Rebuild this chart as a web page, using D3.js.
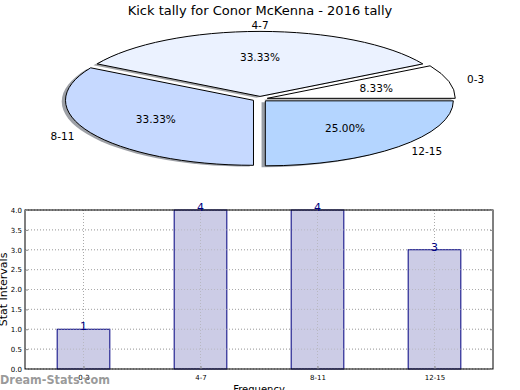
<!DOCTYPE html>
<html><head><meta charset="utf-8">
<script src="https://cdn.jsdelivr.net/npm/d3@7"></script>
<style>body{margin:0;background:#fff}svg{display:block;font-family:"DejaVu Sans",sans-serif}</style>
</head><body>
<svg id="c" width="520" height="390"></svg>
<script>
const title = "Kick tally for Conor McKenna - 2016 tally";
const categories = ["0-3","4-7","8-11","12-15"];
const counts = [1,4,4,3];
const pieColors = ["#ffffff","#ebf2ff","#c6d9ff","#b4d5ff"];
const yTicks = [0,0.5,1,1.5,2,2.5,3,3.5,4];
const yLabel = "Stat Intervals";
const xLabel = "Frequency";
const watermark = "Dream-Stats.com";

const svg = d3.select("#c");
svg.append("rect").attr("width",520).attr("height",390).attr("fill","#fff");

svg.append("text").attr("x",260).attr("y",15).attr("text-anchor","middle")
  .attr("font-size",13).text(title);

// ---- Pie ----
const cx = 260, cy = 99, rx = 188, ry = 65, explode = 0.04;
const total = d3.sum(counts);
const pie = d3.pie().sort(null).startAngle(Math.PI/2).endAngle(Math.PI/2 - 2*Math.PI);
const arcs = pie(counts);
const arc = d3.arc().innerRadius(0).outerRadius(1);
const pg = svg.append("g").attr("transform",`translate(${cx},${cy}) scale(${rx},${ry})`);
function off(d){const m=(d.startAngle+d.endAngle)/2;return [Math.sin(m)*explode,-Math.cos(m)*explode];}
arcs.forEach((d,i)=>{
  const [ox,oy]=off(d);
  const c=d3.rgb(pieColors[i]);
  pg.append("path").attr("d",arc(d))
    .attr("transform",`translate(${ox-0.02},${oy+0.02})`)
    .attr("fill",d3.rgb(c.r*0.3,c.g*0.3,c.b*0.3)).attr("fill-opacity",0.5);
});
arcs.forEach((d,i)=>{
  const [ox,oy]=off(d);
  pg.append("path").attr("d",arc(d))
    .attr("transform",`translate(${ox},${oy})`)
    .attr("fill",pieColors[i]).attr("stroke","#000").attr("stroke-width",1)
    .attr("vector-effect","non-scaling-stroke");
});
arcs.forEach((d,i)=>{
  const [ox,oy]=off(d);
  const m=(d.startAngle+d.endAngle)/2;
  const sx=Math.sin(m), sy=-Math.cos(m);
  const lx=cx+(ox+1.1*sx)*rx, ly=cy+(oy+1.1*sy)*ry;
  svg.append("text").attr("x",lx).attr("y",ly).attr("dy","0.35em")
    .attr("text-anchor", sx>0.01?"start":(sx<-0.01?"end":"middle"))
    .attr("font-size",10.5).text(categories[i]);
  const px=cx+(ox+0.6*sx)*rx, py=cy+(oy+0.6*sy)*ry;
  svg.append("text").attr("x",px).attr("y",py).attr("dy","0.35em")
    .attr("text-anchor","middle").attr("font-size",10.5)
    .text((counts[i]/total*100).toFixed(2)+"%");
});

// ---- Bars ----
const L=25,R=493,T=210,B=369;
const x=d3.scaleLinear().domain([-0.5,categories.length-0.5]).range([L,R]);
const y=d3.scaleLinear().domain([0,4]).range([B,T]);
const bg=svg.append("g");
function grid(op){
  yTicks.forEach(t=>{
    bg.append("line").attr("x1",L).attr("x2",R).attr("y1",y(t)).attr("y2",y(t))
      .attr("stroke","#aaa").attr("stroke-opacity",op).attr("stroke-width",1).attr("stroke-dasharray","1,2");
  });
  categories.forEach((c,i)=>{
    bg.append("line").attr("x1",x(i)).attr("x2",x(i)).attr("y1",T).attr("y2",B)
      .attr("stroke","#aaa").attr("stroke-opacity",op).attr("stroke-width",1).attr("stroke-dasharray","1,2");
  });
}
grid(1);
const bw=0.45;
categories.forEach((c,i)=>{
  bg.append("rect").attr("x",x(i-bw/2)).attr("width",x(bw)-x(0))
    .attr("y",y(counts[i])).attr("height",y(0)-y(counts[i]))
    .attr("fill","#ccccE6").attr("stroke","#000080").attr("stroke-width",1);
});
grid(0.6);
bg.append("rect").attr("x",L).attr("y",T).attr("width",R-L).attr("height",B-T)
  .attr("fill","none").attr("stroke","#000").attr("stroke-width",1);
// axes
const ya=d3.axisLeft(y).tickValues(yTicks).tickFormat(d3.format(".1f")).tickSize(-3).tickPadding(3);
const yg=svg.append("g").attr("transform",`translate(${L},0)`).call(ya);
yg.select(".domain").remove();
yg.selectAll("text").attr("font-size",7).attr("font-family","DejaVu Sans");
yg.selectAll("line").attr("stroke","#888");
const ya2=d3.axisRight(y).tickValues(yTicks).tickFormat("").tickSize(-3);
const yg2=svg.append("g").attr("transform",`translate(${R},0)`).call(ya2);
yg2.select(".domain").remove(); yg2.selectAll("line").attr("stroke","#888");
const xa=d3.axisBottom(x).tickValues(d3.range(categories.length)).tickFormat(i=>categories[i]).tickSize(-3).tickPadding(6);
const xg=svg.append("g").attr("transform",`translate(0,${B})`).call(xa);
xg.select(".domain").remove();
xg.selectAll("text").attr("font-size",7).attr("font-family","DejaVu Sans");
xg.selectAll("line").attr("stroke","#888");
// value labels
categories.forEach((c,i)=>{
  svg.append("text").attr("x",x(i)).attr("y",y(counts[i])+1).attr("text-anchor","middle")
    .attr("font-size",11).attr("fill","#000080").text(counts[i]);
});
// axis labels
svg.append("text").attr("transform",`translate(6.5,${(T+B)/2}) rotate(-90)`)
  .attr("text-anchor","middle").attr("font-size",11).text(yLabel);
svg.append("text").attr("x",(L+R)/2).attr("y",393).attr("text-anchor","middle")
  .attr("font-size",10).text(xLabel);
// watermark
svg.append("text").attr("x",0).attr("y",384).attr("font-size",12.5)
  .attr("font-family","DejaVu Sans Condensed, DejaVu Sans").attr("font-stretch","condensed")
  .attr("font-weight","bold")
  .attr("fill","#888").attr("fill-opacity",0.85).text(watermark);
</script>
</body></html>
